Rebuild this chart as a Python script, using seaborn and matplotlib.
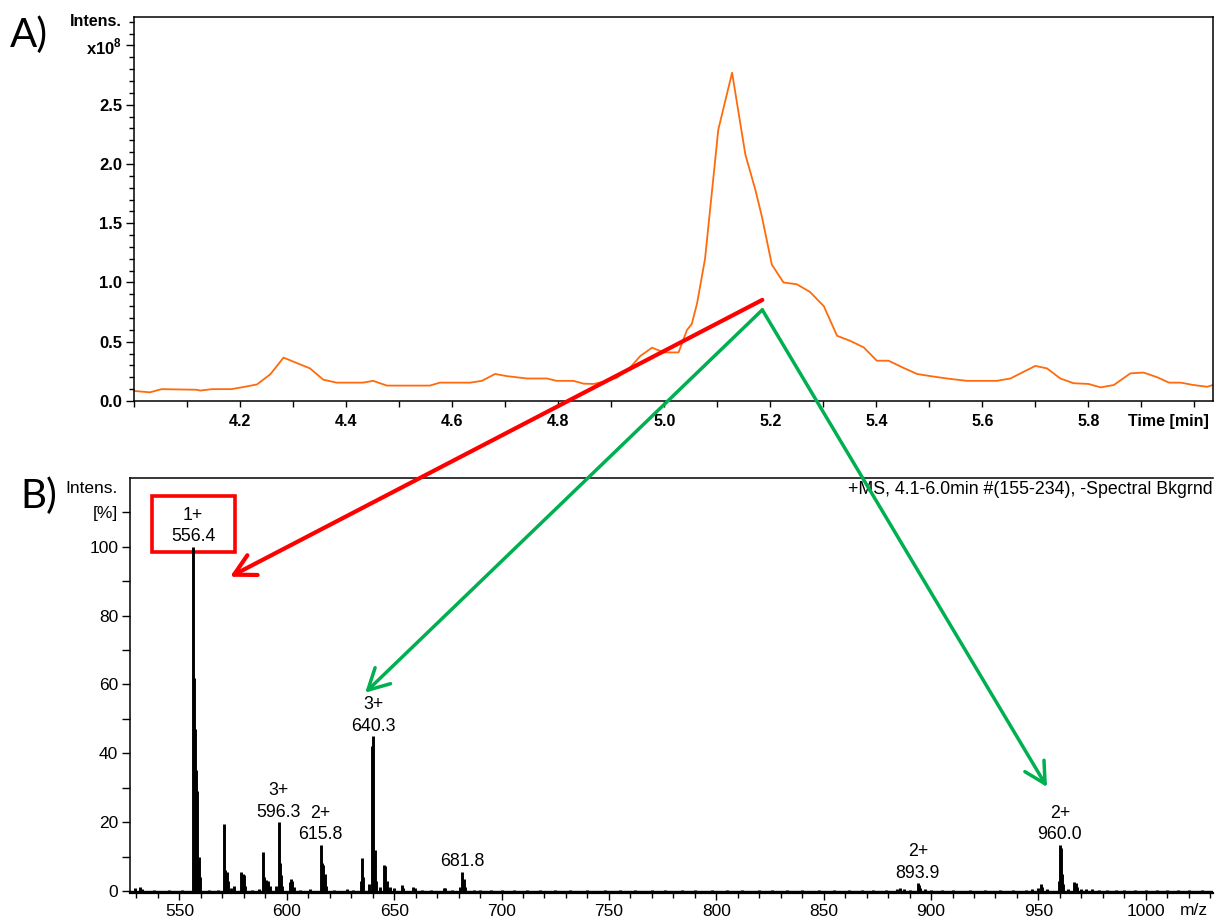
import matplotlib
matplotlib.use("Agg")
import matplotlib.pyplot as plt
import numpy as np
import pandas as pd
import seaborn as sns
from matplotlib.patches import ConnectionPatch, Rectangle
from matplotlib.ticker import MultipleLocator, FixedLocator, FixedFormatter

# ---------------- (A) base peak chromatogram ----------------
time_min = [4.000, 4.030, 4.052, 4.118, 4.125, 4.147, 4.184, 4.209, 4.232, 4.257,
            4.282, 4.332, 4.357, 4.382, 4.432, 4.451, 4.477, 4.558, 4.577, 4.634,
            4.656, 4.681, 4.703, 4.741, 4.779, 4.797, 4.829, 4.848, 4.867, 4.892,
            4.911, 4.936, 4.955, 4.977, 4.999, 5.027, 5.043, 5.052, 5.062, 5.077,
            5.102, 5.128, 5.153, 5.172, 5.184, 5.203, 5.225, 5.250, 5.275,
            5.301, 5.326, 5.351, 5.376, 5.401, 5.423, 5.451, 5.477, 5.502, 5.533,
            5.571, 5.627, 5.653, 5.678, 5.700, 5.722, 5.747, 5.772, 5.800, 5.823,
            5.848, 5.879, 5.904, 5.930, 5.952, 5.974, 5.998, 6.024, 6.035]
intensity_e8 = [0.085, 0.073, 0.100, 0.095, 0.088, 0.100, 0.100, 0.120, 0.140, 0.225,
                0.366, 0.275, 0.180, 0.155, 0.155, 0.170, 0.130, 0.130, 0.155, 0.155,
                0.170, 0.228, 0.210, 0.190, 0.190, 0.170, 0.170, 0.146, 0.144, 0.170,
                0.197, 0.284, 0.380, 0.450, 0.410, 0.410, 0.600, 0.650, 0.825, 1.200,
                2.290, 2.770, 2.080, 1.780, 1.560, 1.150, 1.000, 0.985, 0.920,
                0.800, 0.550, 0.507, 0.453, 0.340, 0.340, 0.280, 0.228, 0.210, 0.190,
                0.170, 0.170, 0.190, 0.247, 0.296, 0.275, 0.190, 0.150, 0.144, 0.115,
                0.135, 0.233, 0.240, 0.200, 0.155, 0.155, 0.135, 0.120, 0.135]

# ---------------- (B) averaged mass spectrum (m/z, relative intensity %) ----------------
mz = [529.4, 531.7, 532.4, 538.0, 545.0, 551.0,
      556.4, 556.9, 557.4, 557.9, 558.4, 559.0, 559.5, 564.0, 568.0,
      570.8, 571.3, 572.1, 572.6, 574.0, 575.2, 578.7, 579.4, 580.0, 580.5,
      584.0, 587.0, 588.9, 589.4, 590.1, 591.3, 592.2, 595.0,
      596.3, 596.8, 597.4, 598.0, 601.5, 602.0, 602.6, 603.2, 606.0, 611.0,
      615.8, 616.3, 617.0, 617.6, 618.2, 622.0, 628.0, 631.0,
      634.5, 635.0, 635.5, 638.5, 639.6, 640.3, 641.0, 641.5, 643.5,
      645.3, 645.9, 646.5, 648.0, 650.0, 653.5, 654.2, 659.0, 659.6, 663.0,
      667.0, 673.0, 673.6, 677.0, 680.8, 681.8, 682.3, 682.9, 687.0, 690.0,
      695.0, 700.0, 706.0, 712.0, 718.0, 725.0, 732.0, 740.0, 748.0, 755.0,
      762.0, 770.0, 776.0, 784.0, 790.0, 798.0, 805.0, 812.0, 820.0, 826.0,
      833.0, 840.0, 848.0, 855.0, 862.0, 868.0, 873.0, 879.0, 884.0, 885.5,
      887.6, 890.0, 893.9, 894.4, 895.0, 897.0, 900.0, 905.0, 910.0, 918.0,
      925.0, 932.0, 938.0, 944.0, 947.0, 950.0, 951.3, 951.8, 954.0,
      959.5, 960.0, 960.5, 961.0, 961.5, 964.0, 966.8, 967.3, 967.9, 970.0,
      972.0, 975.0, 978.0, 982.0, 986.0, 990.0, 995.0, 1000.0, 1005.0, 1010.0,
      1015.0, 1020.0, 1026.0]
rel_int = [0.8, 1.2, 0.7, 0.3, 0.3, 0.3,
           100.0, 62.0, 47.0, 35.0, 29.0, 10.0, 4.0, 0.3, 0.4,
           19.4, 6.0, 5.6, 3.0, 0.8, 1.5, 5.6, 5.0, 4.6, 1.5,
           0.4, 0.6, 11.4, 4.0, 3.2, 2.8, 1.5, 1.5,
           20.0, 8.0, 4.5, 1.5, 2.5, 3.6, 3.0, 1.2, 0.4, 0.6,
           13.4, 8.0, 7.4, 5.0, 1.5, 0.4, 0.6, 0.4,
           3.0, 9.5, 4.0, 1.9, 42.0, 45.0, 12.0, 3.0, 1.2,
           7.6, 7.2, 3.0, 1.0, 0.8, 1.6, 0.8, 1.1, 0.8, 0.4,
           0.3, 0.8, 0.8, 0.3, 1.0, 5.6, 3.5, 1.2, 0.4, 0.4,
           0.3, 0.4, 0.3, 0.3, 0.4, 0.3, 0.3, 0.4, 0.3, 0.3,
           0.4, 0.3, 0.3, 0.4, 0.3, 0.3, 0.3, 0.3, 0.3, 0.4,
           0.3, 0.3, 0.3, 0.4, 0.3, 0.3, 0.4, 0.3, 0.5, 0.8,
           0.6, 0.4, 2.2, 1.8, 0.9, 0.5, 0.3, 0.3, 0.3, 0.3,
           0.3, 0.3, 0.3, 0.4, 0.5, 0.8, 2.0, 1.2, 0.5,
           3.0, 13.4, 12.5, 5.0, 2.0, 0.5, 2.7, 2.3, 1.0, 0.6,
           0.5, 0.5, 0.4, 0.4, 0.3, 0.3, 0.3, 0.3, 0.3, 0.3,
           0.3, 0.3, 0.3]

# annotated ions: m/z value and charge state
ion_mz = [556.4, 596.3, 615.8, 640.3, 681.8, 893.9, 960.0]
ion_charge = ["1+", "3+", "2+", "3+", "", "2+", "2+"]

# arrows linking the eluting peak (time, intensity) to ions in the spectrum (m/z, %)
arrow_origin_red = (5.185, 0.853)
arrow_origin_green = (5.185, 0.769)
arrow_target_red = (573.6, 91.3)
arrow_targets_green = [(636.5, 57.6), (954.0, 30.2)]

sns.set_theme(style="ticks")
plt.rcParams["font.family"] = ["Liberation Sans", "DejaVu Sans"]
plt.rcParams["mathtext.fontset"] = "custom"
plt.rcParams["mathtext.bf"] = "Liberation Sans:bold"
plt.rcParams["mathtext.rm"] = "Liberation Sans"
for key in ("text.color", "axes.labelcolor", "xtick.color", "ytick.color",
            "xtick.labelcolor", "ytick.labelcolor", "axes.edgecolor"):
    plt.rcParams[key] = "black"

fig = plt.figure(figsize=(12.2, 9.23), dpi=100)
fig.patch.set_facecolor("white")

ax1 = fig.add_axes([134 / 1220, 1 - 401 / 923, 1079 / 1220, 384 / 923])
ax2 = fig.add_axes([130 / 1220, 1 - 893 / 923, 1083 / 1220, 415 / 923])

# ---- chromatogram ----
chrom = pd.DataFrame({"time": time_min, "intensity": intensity_e8})
sns.lineplot(data=chrom, x="time", y="intensity", ax=ax1, color="#ff6a0a",
             linewidth=1.3, estimator=None, sort=False)
ax1.set_xlim(4.0, 6.035)
ax1.set_ylim(0.0, 3.24)
ax1.set_xlabel("")
ax1.set_ylabel("")
for sp in ax1.spines.values():
    sp.set_visible(True)
    sp.set_linewidth(1.1)
    sp.set_color("black")

xmaj = [4.2, 4.4, 4.6, 4.8, 5.0, 5.2, 5.4, 5.6, 5.8, 6.0]
ax1.xaxis.set_major_locator(FixedLocator(xmaj))
ax1.xaxis.set_major_formatter(FixedFormatter([f"{v:.1f}" for v in xmaj[:-1]] + [""]))
ax1.xaxis.set_minor_locator(MultipleLocator(0.1))
ymaj = [0.0, 0.5, 1.0, 1.5, 2.0, 2.5, 3.0]
ax1.yaxis.set_major_locator(FixedLocator(ymaj))
ax1.yaxis.set_major_formatter(FixedFormatter([f"{v:.1f}" for v in ymaj[:-1]] + [r"x10$^{\mathbf{8}}$"]))
ax1.yaxis.set_minor_locator(MultipleLocator(0.1))
ax1.tick_params(axis="x", which="both", direction="out", length=4, width=1.0,
                pad=5, labelsize=11.5, color="black")
ax1.tick_params(axis="y", which="major", direction="out", length=5.5, width=1.0,
                pad=3, labelsize=12, color="black")
ax1.tick_params(axis="y", which="minor", direction="out", length=3.5, width=1.0, color="black")
for lab in ax1.get_xticklabels() + ax1.get_yticklabels():
    lab.set_fontweight("bold")
ax1.annotate("Intens.", xy=(0, 3.2), xycoords=("axes fraction", "data"),
             xytext=(-9, 0), textcoords="offset points", ha="right", va="center",
             fontsize=11.5, fontweight="bold")
ax1.annotate("Time [min]", xy=(1, 0), xycoords="axes fraction",
             xytext=(-3, -9), textcoords="offset points", ha="right", va="top",
             fontsize=11.5, fontweight="bold")

# ---- mass spectrum ----
ax2.vlines(mz, 0, rel_int, color="black", linewidth=2.1)
ax2.axhline(0, color="black", linewidth=1.0)
ax2.set_xlim(527.0, 1031.3)
ax2.set_ylim(-0.6, 120.0)
for name, sp in ax2.spines.items():
    sp.set_color("black")
ax2.spines["left"].set_linewidth(1.1)
ax2.spines["bottom"].set_linewidth(1.6)
ax2.spines["top"].set_linewidth(1.1)
ax2.spines["right"].set_visible(False)

ax2.xaxis.set_major_locator(MultipleLocator(50))
ax2.xaxis.set_minor_locator(MultipleLocator(10))
ymaj2 = [0, 20, 40, 60, 80, 100, 110]
ax2.yaxis.set_major_locator(FixedLocator(ymaj2))
ax2.yaxis.set_major_formatter(FixedFormatter([str(v) for v in ymaj2[:-1]] + ["[%]"]))
ax2.yaxis.set_minor_locator(FixedLocator([10, 30, 50, 70, 90]))
ax2.tick_params(axis="x", which="major", direction="out", length=5, width=1.0,
                pad=3, labelsize=12.5, color="black")
ax2.tick_params(axis="x", which="minor", direction="out", length=3.5, width=1.0, color="black")
ax2.tick_params(axis="y", which="major", direction="out", length=5.5, width=1.0,
                pad=3, labelsize=12.5, color="black")
ax2.tick_params(axis="y", which="minor", direction="out", length=5.5, width=1.0, color="black")
ax2.annotate("Intens.", xy=(0, 1), xycoords="axes fraction",
             xytext=(-9, -2), textcoords="offset points", ha="right", va="top",
             fontsize=12.5)
ax2.annotate("m/z", xy=(1, 0), xycoords="axes fraction",
             xytext=(-4, -7.5), textcoords="offset points", ha="right", va="top",
             fontsize=12.5)
ax2.annotate("+MS, 4.1-6.0min #(155-234), -Spectral Bkgrnd", xy=(1, 1),
             xycoords="axes fraction", xytext=(0, -2), textcoords="offset points",
             ha="right", va="top", fontsize=12.8)

peak_height = dict(zip(mz, rel_int))
for m, z in zip(ion_mz, ion_charge):
    txt = f"{z}\n{m:.1f}" if z else f"{m:.1f}"
    ax2.annotate(txt, xy=(m, peak_height[m]), xytext=(0, 1), textcoords="offset points",
                 ha="center", va="bottom", fontsize=12.8, linespacing=1.35)

# highlight box around the base peak label
box_w, box_h = 38.6, 16.3
base_mz = ion_mz[0]
ax2.add_patch(Rectangle((base_mz - box_w / 2, peak_height[base_mz] - 1.5), box_w, box_h,
                        fill=False, edgecolor="#ff0000", linewidth=2.6, clip_on=False))

# ---- arrows from the chromatographic peak into the spectrum ----
red = ConnectionPatch(xyA=arrow_origin_red, coordsA=ax1.transData,
                      xyB=arrow_target_red, coordsB=ax2.transData,
                      arrowstyle="->,head_length=0.75,head_width=0.4",
                      mutation_scale=20, color="#ff0000", linewidth=3.0)
fig.add_artist(red)
for tgt in arrow_targets_green:
    g = ConnectionPatch(xyA=arrow_origin_green, coordsA=ax1.transData,
                        xyB=tgt, coordsB=ax2.transData,
                        arrowstyle="->,head_length=0.75,head_width=0.4",
                        mutation_scale=20, color="#00b050", linewidth=2.5)
    fig.add_artist(g)

fig.text(10 / 1220, 1 - 47 / 923, "A)", fontsize=29, family=["Lato", "DejaVu Sans"],
         va="baseline", ha="left")
fig.text(20 / 1220, 1 - 508 / 923, "B)", fontsize=29, family=["Lato", "DejaVu Sans"],
         va="baseline", ha="left")

fig.savefig("out.png", dpi=100, facecolor="white")
